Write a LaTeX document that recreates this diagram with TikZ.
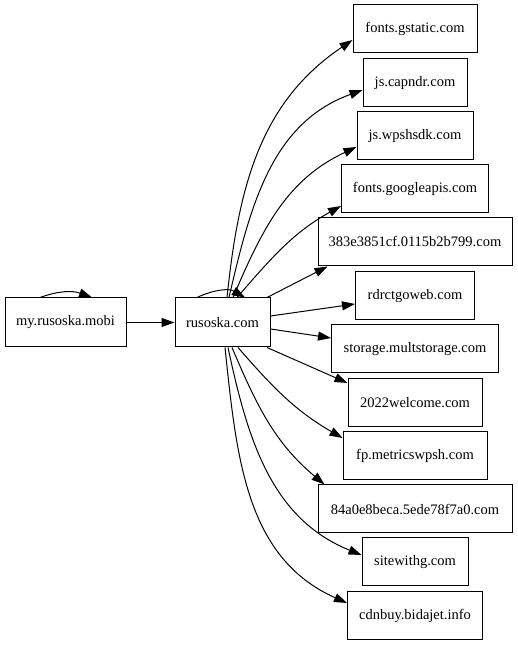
\documentclass[tikz,border=0pt]{standalone}
\usepackage{fontspec}
\setmainfont{Liberation Serif}
\usetikzlibrary{arrows.meta}
\tikzset{
  site/.style={draw, line width=1pt, minimum height=48pt, inner sep=2pt, font=\fontsize{14.5}{17}\selectfont},
  link/.style={line width=1pt, -{Triangle[length=13pt,width=9pt]}},
}

\begin{document}
\begin{tikzpicture}[x=1pt,y=1pt]
  \useasboundingbox (0,0) rectangle (517,645);

  \node[site,minimum width=121pt,minimum height=49pt] (mobi) at (65.5,322.5) {my.rusoska.mobi};
  \node[site,minimum width=95pt,minimum height=49pt] (ruso) at (222.5,322.5) {rusoska.com};

  \foreach \n/\t/\w/\y in {gst/fonts.gstatic.com/124/616, cap/js.capndr.com/104/562,
      wps/js.wpshsdk.com/116/509, gapi/fonts.googleapis.com/147/456,
      hexa/383e3851cf.0115b2b799.com/194/403, rdr/rdrctgoweb.com/119/349,
      mult/storage.multstorage.com/167/296, welc/2022welcome.com/134/242,
      fpm/fp.metricswpsh.com/144/189, hexb/84a0e8beca.5ede78f7a0.com/194/136,
      swg/sitewithg.com/106/83, cdn/cdnbuy.bidajet.info/135/29} {
    \node[site,minimum width=\w pt] (\n) at (415,\y) {\t};
  }

  \draw[link] (mobi) -- (ruso);
  \draw[link] ([xshift=-25.5pt]mobi.north) to[out=20,in=160] ([xshift=26.5pt]mobi.north);
  \draw[link] ([xshift=-25.5pt]ruso.north) to[out=25,in=150] ([xshift=22.5pt]ruso.north);

  % upper fan
  \draw[link] ([xshift=4.5pt]ruso.north) to[out=84,in=214] ([yshift=-11pt]gst.west);
  \draw[link] ([xshift=6.5pt]ruso.north) to[out=77,in=200] ([yshift=-7pt]cap.west);
  \draw[link] ([xshift=10.5pt]ruso.north) to[out=67,in=205] ([yshift=-11pt]wps.west);
  \draw[link] ([xshift=14.5pt]ruso.north) to[out=49,in=209] ([yshift=-17pt]gapi.west);
  \draw[link] ([xshift=44.5pt]ruso.north) -- ([xshift=10pt]hexa.south west);
  \draw[link] ([yshift=6.5pt]ruso.east) -- ([yshift=-8pt]rdr.west);
  \draw[link] ([yshift=-6.5pt]ruso.east) -- ([yshift=11pt]mult.west);

  % lower fan
  \draw[link] ([xshift=44.5pt]ruso.south) -- ([yshift=20pt]welc.west);
  \draw[link] ([xshift=15.5pt]ruso.south) to[out=-49,in=150] ([yshift=18pt]fpm.west);
  \draw[link] ([xshift=9.5pt]ruso.south) to[out=-67,in=140] ([xshift=7pt]hexb.north west);
  \draw[link] ([xshift=5.5pt]ruso.south) to[out=-78,in=158] ([yshift=7pt]swg.west);
  \draw[link] ([xshift=2.5pt]ruso.south) to[out=-84,in=156] ([yshift=13pt]cdn.west);
\end{tikzpicture}
\end{document}
